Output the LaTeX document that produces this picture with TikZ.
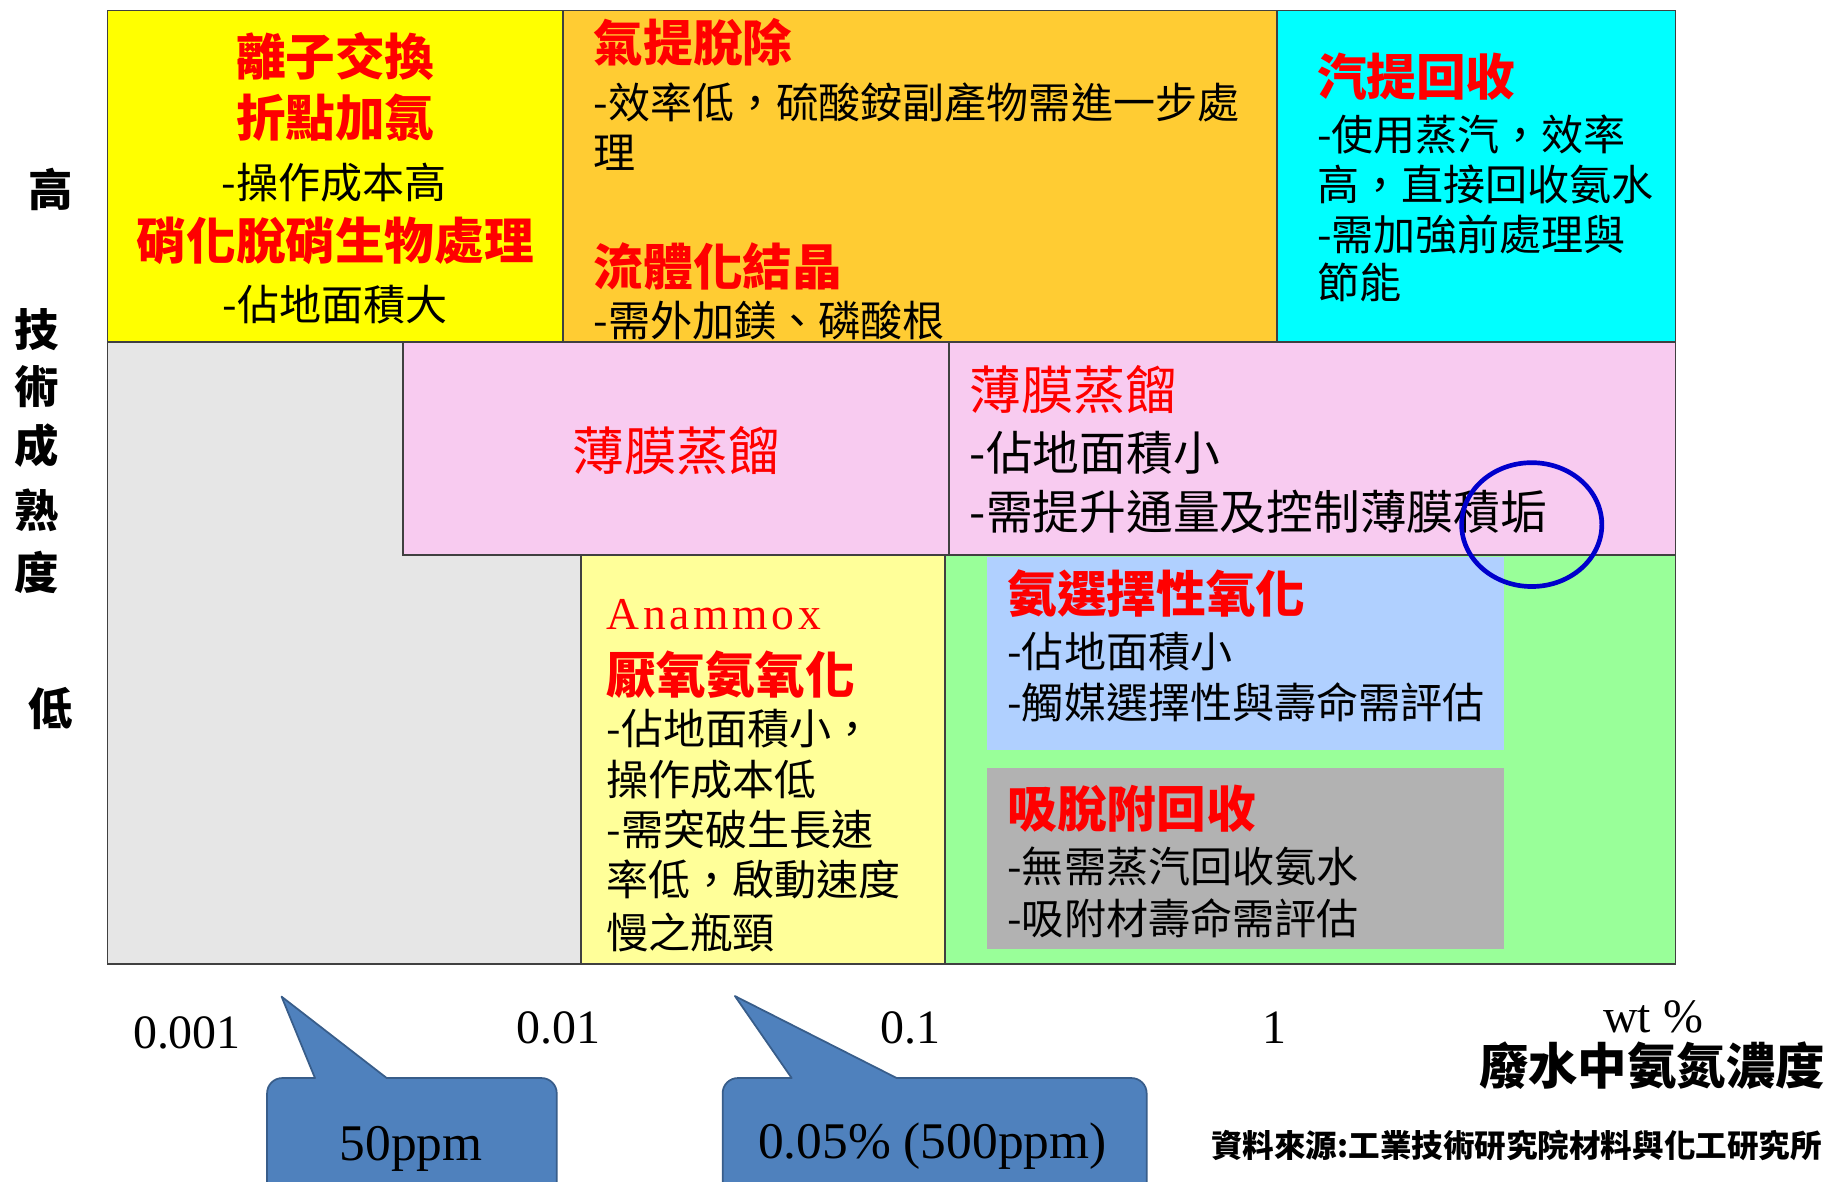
\documentclass[tikz,border=0pt]{standalone}
\usepackage{fontspec}
\setmainfont{Liberation Serif}
\newfontfamily\cjk{Noto Sans CJK TC}[Script=CJK,Language=Chinese Traditional]
\newfontfamily\anafont[LetterSpace=8]{Liberation Serif}
\definecolor{cYel}{RGB}{255,255,0}
\definecolor{cOra}{RGB}{255,204,51}
\definecolor{cCya}{RGB}{0,255,255}
\definecolor{cPink}{RGB}{248,203,240}
\definecolor{cGrayBg}{RGB}{230,230,230}
\definecolor{cLYel}{RGB}{255,255,153}
\definecolor{cGreen}{RGB}{153,255,153}
\definecolor{cBlue}{RGB}{176,208,255}
\definecolor{cGrayBox}{RGB}{178,178,178}
\definecolor{cCall}{RGB}{79,129,189}
\definecolor{cCallEdge}{RGB}{56,93,138}
\definecolor{cEll}{RGB}{0,0,204}
\definecolor{cLine}{RGB}{64,64,64}
\begin{document}
\begin{tikzpicture}[x=1pt,y=-1pt,
  cell/.style={draw=cLine,line width=1.5pt},
  ttl/.style={anchor=west,inner sep=0pt,text=red,font=\cjk\bfseries\fontsize{42.5}{50}\selectfont},
  txt/.style={anchor=west,inner sep=0pt,text=black,font=\cjk\fontsize{36}{42}\selectfont},
  ptl/.style={anchor=west,inner sep=0pt,text=red,font=\cjk\fontsize{44.5}{52}\selectfont},
  ptxt/.style={anchor=west,inner sep=0pt,text=black,font=\cjk\fontsize{40}{46}\selectfont},
  axl/.style={anchor=center,inner sep=0pt,text=black,font=\cjk\bfseries\fontsize{38}{44}\selectfont},
  num/.style={anchor=center,inner sep=0pt,text=black,font=\fontsize{41}{48}\selectfont},
  cnum/.style={anchor=center,inner sep=0pt,text=black,font=\fontsize{44}{50}\selectfont},
  callout/.style={fill=cCall,draw=cCallEdge,line width=1.5pt,line join=round}
]
\fill[white] (0,0) rectangle (1568,1011);
\useasboundingbox (0,0) rectangle (1568,1011);

% grid cells
\filldraw[cell,fill=cGrayBg] (92,293) rectangle (1434,825);
\filldraw[cell,fill=cYel] (92,9) rectangle (482,293);
\filldraw[cell,fill=cOra] (482,9) rectangle (1093,293);
\filldraw[cell,fill=cCya] (1093,9) rectangle (1434,293);
\filldraw[cell,fill=cPink] (345,293) rectangle (812,475);
\filldraw[cell,fill=cPink] (812,293) rectangle (1434,475);
\filldraw[cell,fill=cLYel] (497,475) rectangle (809,825);
\filldraw[cell,fill=cGreen] (809,475) rectangle (1434,825);
\fill[cBlue] (845,477) rectangle (1287,642);
\fill[cGrayBox] (845,657) rectangle (1287,812);
\draw[cell] (92,9) rectangle (1434,825);

% yellow cell
\node[ttl,anchor=center] (y1) at (287,48) {離子交換};
\node[ttl,anchor=center] (y2) at (287,101) {折點加氯};
\node[txt,anchor=center] (y3) at (286,156) {-操作成本高};
\node[ttl,anchor=center] (y4) at (287,206) {硝化脫硝生物處理};
\node[txt,anchor=center] (y5) at (287,261) {-佔地面積大};

% orange cell
\node[ttl] (o1) at (508,36) {氣提脫除};
\node[txt] (o2) at (508,88) {-效率低，硫酸銨副產物需進一步處};
\node[txt] (o3) at (508,131) {理};
\node[ttl] (o4) at (508,228) {流體化結晶};
\node[txt] (o5) at (508,274) {-需外加鎂、磷酸根};

% cyan cell
\node[ttl] (c1) at (1127,66) {汽提回收};
\node[txt] (c2) at (1127,115) {-使用蒸汽，效率};
\node[txt] (c3) at (1127,158) {高，直接回收氨水};
\node[txt] (c4) at (1127,201) {-需加強前處理與};
\node[txt] (c5) at (1127,242) {節能};

% pink cells
\node[ptl,anchor=center] (p1) at (579,386) {薄膜蒸餾};
\node[ptl] (p2) at (830,334) {薄膜蒸餾};
\node[ptxt] (p3) at (830,388) {-佔地面積小};
\node[ptxt] (p4) at (830,438) {-需提升通量及控制薄膜積垢};

% light yellow cell
\node[anchor=west,inner sep=0pt,text=red,font=\anafont\fontsize{39}{46}\selectfont] (a1) at (519,526) {Anammox};
\node[ttl] (a2) at (519,577) {厭氧氨氧化};
\node[txt] (a3) at (519,624) {-佔地面積小，};
\node[txt] (a4) at (519,667) {操作成本低};
\node[txt] (a5) at (519,710) {-需突破生長速};
\node[txt] (a6) at (519,753) {率低，啟動速度};
\node[txt] (a7) at (519,798) {慢之瓶頸};

% blue box
\node[ttl] (b1) at (862,508) {氨選擇性氧化};
\node[txt] (b2) at (862,558) {-佔地面積小};
\node[txt] (b3) at (862,601) {-觸媒選擇性與壽命需評估};

% gray box
\node[ttl] (g1) at (862,692) {吸脫附回收};
\node[txt] (g2) at (862,742) {-無需蒸汽回收氨水};
\node[txt] (g3) at (862,786) {-吸附材壽命需評估};

% highlight ellipse
\draw[cEll,line width=4pt] (1311,449) ellipse [x radius=60,y radius=53];

% vertical axis
\node[axl] (v1) at (43,162) {高};
\node[axl] (v2) at (31,282) {技};
\node[axl] (v3) at (31,331) {術};
\node[axl] (v4) at (31,381) {成};
\node[axl] (v5) at (31,437) {熟};
\node[axl] (v6) at (31,490) {度};
\node[axl] (v7) at (43,606) {低};

% horizontal axis
\node[num] (h1) at (160,884) {0.001};
\node[num] (h2) at (478,880) {0.01};
\node[num] (h3) at (779,880) {0.1};
\node[num] (h4) at (1091,880) {1};
\node[num] (h5) at (1415,870) {wt \%};
\node[anchor=center,inner sep=0pt,font=\cjk\bfseries\fontsize{42.3}{48}\selectfont] (h6) at (1414,912) {廢水中氨氮濃度};
\node[anchor=center,inner sep=0pt,font=\cjk\bfseries\fontsize{27}{32}\selectfont] (src) at (1298,980) {資料來源:工業技術研究院材料與化工研究所};

% callouts
\begin{scope}
\clip (0,0) rectangle (1568,1011);
\path[callout] (241,853) -- (331,922.7) [rounded corners=13pt] -- (476.5,922.7) -- (476.5,1040) -- (228.6,1040) -- (228.6,922.7) [sharp corners] -- (269.6,922.7) -- cycle;
\path[callout] (629,852.5) -- (767.5,922.7) [rounded corners=13pt] -- (981.4,922.7) -- (981.4,1040) -- (618.5,1040) -- (618.5,922.7) [sharp corners] -- (677.6,922.7) -- cycle;
\end{scope}
\node[cnum] (k1) at (352,983) {50ppm};
\node[cnum] (k2) at (798,981) {0.05\% (500ppm)};
\end{tikzpicture}
\end{document}
